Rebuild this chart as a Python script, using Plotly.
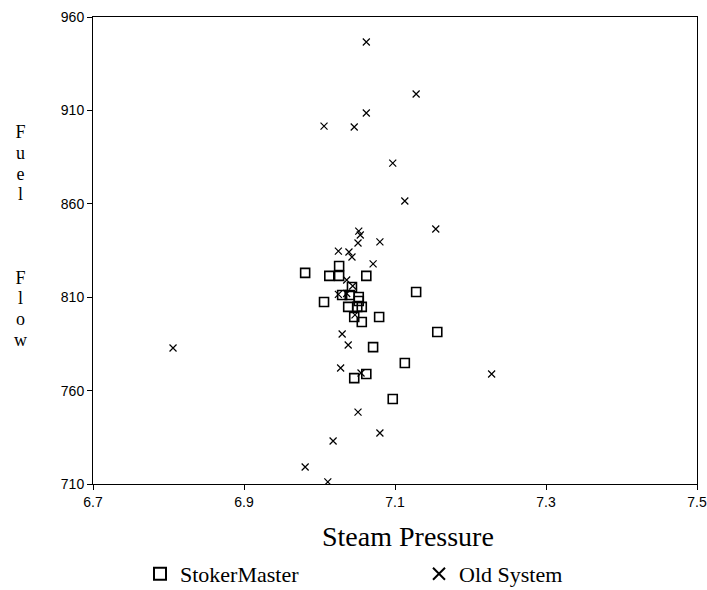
import plotly.graph_objects as go

# StokerMaster (squares)
stoker_pressure = [6.981, 7.026, 7.013, 7.026, 7.062, 7.006, 7.128, 7.043, 7.030, 7.040,
                   7.052, 7.052, 7.038, 7.050, 7.056, 7.046, 7.056, 7.079, 7.156, 7.071,
                   7.113, 7.062, 7.046, 7.097]
stoker_flow = [823.0, 826.7, 821.4, 821.4, 821.4, 807.4, 812.8, 815.5, 811.2, 811.2,
               810.1, 808.0, 804.8, 804.8, 804.8, 799.4, 796.7, 799.4, 791.4, 783.3,
               774.8, 768.9, 766.7, 755.5]

# Old System (x)
old_pressure = [7.062, 7.128, 7.062, 7.006, 7.046, 7.097, 7.113, 7.154, 7.052, 7.054,
                7.051, 7.080, 7.025, 7.039, 7.043, 7.071, 7.036, 7.044, 7.025, 7.036,
                7.047, 7.030, 7.038, 7.028, 7.055, 7.051, 7.080, 7.018, 6.981, 7.011,
                6.806, 7.228]
old_flow = [946.6, 918.8, 908.6, 901.6, 901.1, 881.8, 861.5, 846.5, 845.4, 843.3,
            839.0, 839.6, 834.7, 834.2, 831.5, 827.8, 819.2, 816.0, 811.5, 812.0,
            800.5, 790.3, 784.4, 772.1, 769.4, 748.5, 737.3, 733.0, 719.1, 711.1,
            782.8, 768.9]

x_ticks = [6.7, 6.9, 7.1, 7.3, 7.5]
y_ticks = [710, 760, 810, 860, 910, 960]

x_title = "Steam Pressure"
y_title_words = ["Fuel", "Flow"]

SERIF = "Liberation Serif"
SANS = "Liberation Sans"

W, H = 707, 590

fig = go.Figure()
fig.add_trace(go.Scatter(
    x=stoker_pressure, y=stoker_flow, mode="markers", name="StokerMaster",
    marker=dict(symbol="square-open", size=9, color="black", line=dict(width=1.6, color="black")),
))
fig.add_trace(go.Scatter(
    x=old_pressure, y=old_flow, mode="markers", name="Old System",
    marker=dict(symbol="x-thin-open", size=7, color="black", line=dict(width=1.2, color="black")),
))

axis_common = dict(
    showline=True, linecolor="black", linewidth=1, mirror=True,
    showgrid=False, zeroline=False, ticks="outside", ticklen=5, tickcolor="black",
    tickfont=dict(family=SANS, size=14, color="black"),
    automargin=False,
)
fig.update_xaxes(range=[6.7, 7.5], tickvals=x_ticks, ticktext=[f"{v:.1f}" for v in x_ticks],
                 ticklabeloverflow="allow", **axis_common)
fig.update_yaxes(range=[710, 960], tickvals=y_ticks, ticktext=[str(v) for v in y_ticks], **axis_common)

# x-axis title
fig.add_annotation(
    text=x_title, xref="paper", yref="paper", x=0.5215, y=-0.113,
    xanchor="center", yanchor="middle", showarrow=False,
    font=dict(family=SERIF, size=28, color="black"),
)

# stacked y-axis title (one text block, letters on separate lines)
big = lambda ch: f'<span style="font-size:18px">{ch}</span>'
stack = "<br>".join(big(c) for c in y_title_words[0]) + "<br><br><br><br>" + \
        "<br>".join(big(c) for c in y_title_words[1])
fig.add_annotation(
    text=stack, xref="paper", yref="paper",
    x=(20 - 93) / 604, y=(484 - 236) / 467,
    xanchor="center", yanchor="middle", showarrow=False, align="center",
    font=dict(family=SERIF, size=16, color="black"),
)

fig.update_layout(
    width=W, height=H,
    margin=dict(l=93, r=10, t=17, b=106),
    font=dict(family=SERIF, color="black"),
    plot_bgcolor="white", paper_bgcolor="white",
    showlegend=True,
    legend=dict(orientation="h", xref="container", yref="container",
                x=140 / W, y=(590 - 574) / H, xanchor="left", yanchor="middle",
                entrywidth=234, entrywidthmode="pixels",
                font=dict(family=SERIF, size=22, color="black"),
                itemsizing="constant", bgcolor="rgba(0,0,0,0)"),
)

fig.write_html("out.html", config={"displayModeBar": False},
               post_script="document.body.style.margin='0';document.body.style.overflow='hidden';")
